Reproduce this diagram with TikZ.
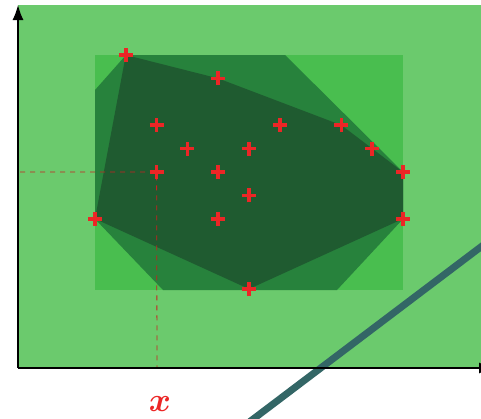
\documentclass[tikz,border=0pt]{standalone}
\usepackage{bm}
\usetikzlibrary{arrows.meta}
\definecolor{gLight}{RGB}{107,202,109}
\definecolor{gMid}{RGB}{73,190,79}
\definecolor{gDark}{RGB}{39,130,60}
\definecolor{gDarkest}{RGB}{31,91,48}
\definecolor{ptred}{RGB}{236,38,38}
\definecolor{teal}{RGB}{51,102,102}
\tikzset{
  pt/.style={ptred, line width=3.6pt},
  axis/.style={black, line width=1.4pt, -{Latex[length=15pt,width=11pt]}},
  guide/.style={ptred!85!black, line width=0.8pt, dash pattern=on 5pt off 5pt},
}
\newcommand{\gx}[1]{95+30.8*#1}
\newcommand{\gy}[1]{55+23.4*#1}
\begin{document}
\begin{tikzpicture}[x=1pt,y=-1pt]
\useasboundingbox (0,0) rectangle (481,418);
\clip (0,0) rectangle (481,418);
\fill[white] (0,0) rectangle (481,418);
\fill[gLight] (18,5) rectangle (481,368);
\fill[gMid] (95,55) rectangle (403,290);
\fill[gDark] (95,90) -- (126,55) -- (285,55) -- (403,172) -- (403,219) -- (337,290) -- (163,290) -- (95,219) -- cycle;
% grid points
\foreach \n/\i/\j in {a/1/0,b/4/1,c/2/3,d/6/3,e/8/3,f/3/4,g/5/4,h/9/4,k/2/5,l/4/5,m/10/5,n/5/6,o/0/7,p/4/7,q/10/7,r/5/10}
  \coordinate (\n) at ({\gx{\i}},{\gy{\j}});
\fill[gDarkest] (a) -- (b) -- (e) -- (h) -- (m) -- (q) -- (r) -- (o) -- cycle;
% guides
\coordinate (gl) at (20,172);
\coordinate (gb) at (157,368);
\draw[guide] (gl) -- (k) -- (gb);
% teal line
\coordinate (t1) at (248,423);
\coordinate (t2) at (490,240);
\draw[teal, line width=7pt] (t1) -- (t2);
% axes
\coordinate (O) at (18,368);
\coordinate (Y) at (18,5);
\coordinate (X) at (494,368);
\draw[axis] (O) -- (Y);
\draw[axis] (O) -- (X);
% points
\foreach \n in {a,b,c,d,e,f,g,h,k,l,m,n,o,p,q,r}
  \draw[pt] ([xshift=-7pt]\n) -- ([xshift=7pt]\n) ([yshift=-7pt]\n) -- ([yshift=7pt]\n);
\node[ptred, font=\Huge, scale=1.35, inner sep=0pt] (xl) at (160,404) {$\bm{x}$};
\end{tikzpicture}
\end{document}
